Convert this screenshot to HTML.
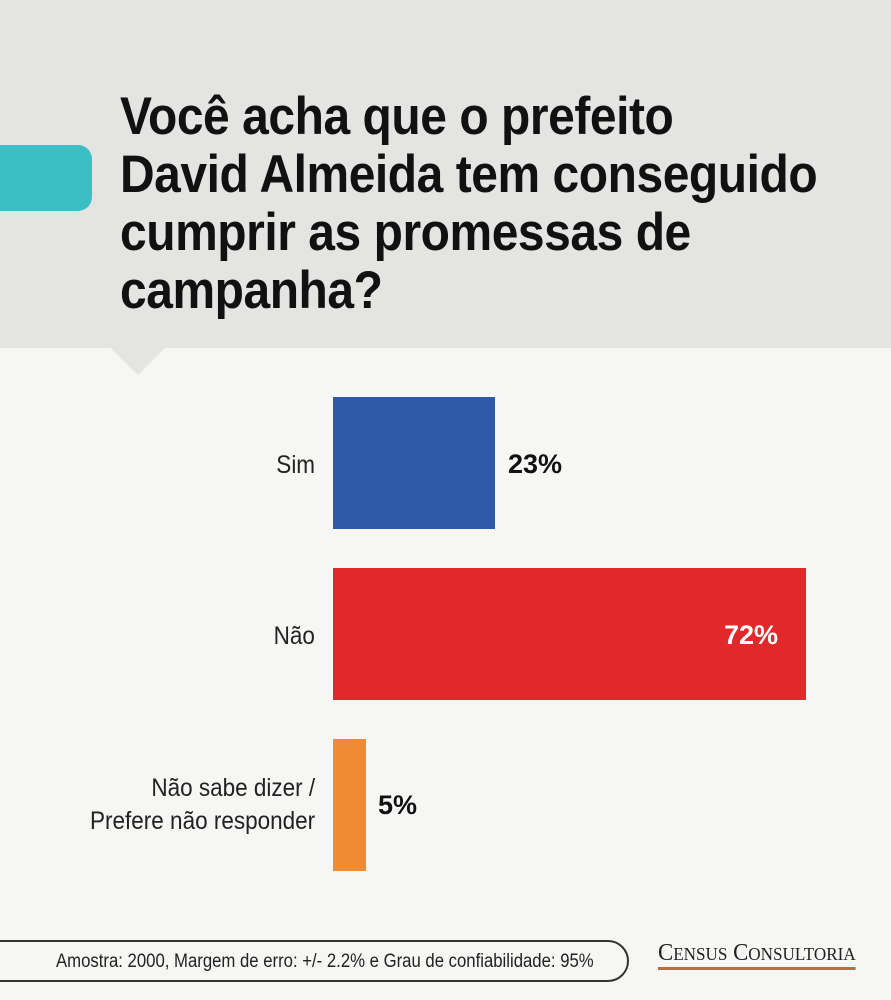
<!DOCTYPE html>
<html><head><meta charset="utf-8"><style>
body{margin:0;width:891px;height:1000px;position:relative;background:#f6f6f5;font-family:"Liberation Sans",sans-serif;overflow:hidden}
.hdr{position:absolute;left:0;top:0;width:891px;height:348px;background:#e4e4e3}
.tri{position:absolute;left:110px;top:347px;width:0;height:0;border-left:28px solid transparent;border-right:28px solid transparent;border-top:28px solid #e4e4e3}
.tab{position:absolute;left:-20px;top:145px;width:112px;height:66px;background:#3bbfc4;border-radius:0 14px 14px 0}
.title{position:absolute;left:120px;top:88px;font-weight:bold;font-size:53px;line-height:58px;color:#111;transform:scaleX(0.905);transform-origin:left top;white-space:nowrap;letter-spacing:-0.5px}
.bar{position:absolute;left:333px}
.lbl{position:absolute;right:576px;font-size:25px;color:#222;text-align:right;transform:scaleX(0.9);transform-origin:right center;line-height:33px}
.val{position:absolute;font-size:27px;font-weight:bold;color:#111}
.foot{position:absolute;left:-30px;top:940px;width:659px;height:42px;border:2px solid #333;border-radius:22px;box-sizing:border-box}
.ft{position:absolute;left:56px;top:951px;font-size:19px;color:#222;transform:scaleX(0.88);transform-origin:left top;white-space:nowrap}
.logo{position:absolute;left:658px;top:940px;font-size:24px;color:#222;font-family:"Liberation Serif",serif;border-bottom:3px solid #b5704a;line-height:26px;transform:scaleX(0.95);transform-origin:left top;white-space:nowrap}
</style></head><body>
<div class="hdr"></div><div class="tri"></div><div class="tab"></div>
<div class="title">Você acha que o prefeito<br>David Almeida tem conseguido<br>cumprir as promessas de<br>campanha?</div>
<div class="bar" style="top:397px;width:162px;height:132px;background:#2e5aa8"></div>
<div class="bar" style="top:568px;width:473px;height:132px;background:#e2282b"></div>
<div class="bar" style="top:739px;width:33px;height:132px;background:#f08b33"></div>
<div class="lbl" style="top:449px">Sim</div>
<div class="lbl" style="top:620px">Não</div>
<div class="lbl" style="top:772px">Não sabe dizer /<br>Prefere não responder</div>
<div class="val" style="left:508px;top:449px">23%</div>
<div class="val" style="left:724px;top:620px;color:#fff">72%</div>
<div class="val" style="left:378px;top:790px">5%</div>
<div class="foot"></div>
<div class="ft">Amostra: 2000, Margem de erro: +/- 2.2% e Grau de confiabilidade: 95%</div>
<div class="logo">C<span style="font-size:18px">ENSUS</span> C<span style="font-size:18px">ONSULTORIA</span></div>
</body></html>
